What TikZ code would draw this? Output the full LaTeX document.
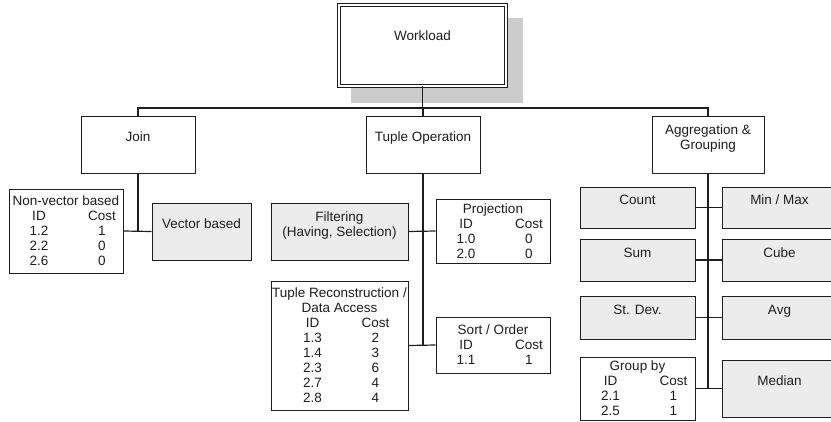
\documentclass[tikz,border=0pt]{standalone}
\usepackage{fontspec}
\setmainfont{Liberation Sans}
\definecolor{shadefill}{RGB}{236,236,236}
\definecolor{shadowgray}{RGB}{204,204,204}
\definecolor{ink}{RGB}{30,30,30}
\newcommand\costrow[2]{\makebox[0pt]{\hspace{-54pt}#1}\makebox[0pt]{\hspace{72pt}#2}}
\tikzset{
  every node/.style={font=\fontsize{13.5}{15}\selectfont, text=ink, inner sep=0pt, align=center},
  box/.style={draw=ink, line width=1pt, fill=white, minimum width=114pt, minimum height=57pt},
  sbox/.style={box, fill=shadefill},
  wbox/.style={draw=ink, fill=white, line width=0.9pt, double=white, double distance=2.5pt, minimum width=167pt, minimum height=81pt},
  vconn/.style={draw=ink, line width=1.6pt},
  hconn/.style={draw=ink, line width=1.2pt},
}
\begin{document}
\begin{tikzpicture}[x=1pt,y=-1pt]
\useasboundingbox (0,0) rectangle (831,421);
\clip (0,0) rectangle (831,421);
% Workload with shadow
\fill[shadowgray] (351,18) rectangle (523,103);
\node[wbox] (work) at (422.5,45.5) {};
\node (workT) at (422.5,35.5) {Workload};
% level 1
\node[box] (join) at (138,144.5) {Join\\\mbox{}};
\node[box] (tup) at (423,144.5) {Tuple Operation\\\mbox{}};
\node[box, minimum width=112pt] (agg) at (708,144.5) {Aggregation \&\\Grouping\\\mbox{}};
% join children
\node[box, minimum height=84pt] (nonvec) at (66,231) {Non-vector based\\\costrow{ID}{Cost}\\\costrow{1.2}{1}\\\costrow{2.2}{0}\\\costrow{2.6}{0}};
\node[sbox, minimum width=99pt] (vec) at (201.5,231.5) {Vector based\\\mbox{}};
% tuple children
\node[sbox, minimum width=137pt] (filt) at (339.5,231.5) {Filtering\\(Having, Selection)\\\mbox{}};
\node[box, minimum height=64pt] (proj) at (493,231) {Projection\\\costrow{ID}{Cost}\\\costrow{1.0}{0}\\\costrow{2.0}{0}};
\node[box, minimum width=137pt, minimum height=129pt] (trec) at (339.5,345.5) {Tuple Reconstruction /\\Data Access\\\costrow{ID}{Cost}\\\costrow{1.3}{2}\\\costrow{1.4}{3}\\\costrow{2.3}{6}\\\costrow{2.7}{4}\\\costrow{2.8}{4}};
\node[box, minimum height=56pt] (sort) at (493,345) {Sort / Order\\\costrow{ID}{Cost}\\\costrow{1.1}{1}};
% aggregation children
\node[sbox, minimum width=115pt, minimum height=41pt] (count) at (637.5,207.5) {Count\\\mbox{}};
\node[sbox, minimum width=115pt, minimum height=41pt] (minmax) at (779.5,207.5) {Min / Max\\\mbox{}};
\node[sbox, minimum width=115pt, minimum height=42pt] (sum) at (637.5,260) {Sum\\\mbox{}};
\node[sbox, minimum width=115pt, minimum height=42pt] (cube) at (779.5,260) {Cube\\\mbox{}};
\node[sbox, minimum width=115pt, minimum height=43pt] (stdev) at (637.5,317.5) {St. Dev.\\\mbox{}};
\node[sbox, minimum width=115pt, minimum height=43pt] (avg) at (779.5,317.5) {Avg\\\mbox{}};
\node[box, minimum width=115pt, minimum height=63pt] (groupby) at (637.5,388.5) {Group by\\\costrow{ID}{Cost}\\\costrow{2.1}{1}\\\costrow{2.5}{1}};
\node[sbox, minimum width=115pt, minimum height=57pt] (median) at (779.5,388.5) {Median\\\mbox{}};
% connectors
\coordinate (bus) at (0,108);
\draw[vconn] (work.south) -- (work.south |- bus);
\draw[vconn] (join.north) -- (join.north |- bus) -- (agg.north |- bus) -- (agg.north);
\draw[vconn] (tup.north) -- (tup.north |- bus);
\draw[vconn] (join.south) -- (join.south |- nonvec.east);
\draw[hconn] (nonvec.east) -- (vec.west);
\draw[vconn] (tup.south) -- (tup.south |- trec.east);
\draw[hconn] (filt.east) -- (proj.west);
\draw[hconn] (trec.east) -- (sort.west);
\draw[vconn] (agg.south) -- (agg.south |- groupby.east);
\draw[hconn] (count.east) -- (minmax.west);
\draw[hconn] (sum.east) -- (cube.west);
\draw[hconn] (stdev.east) -- (avg.west);
\draw[hconn] (groupby.east) -- (median.west);
\end{tikzpicture}
\end{document}
